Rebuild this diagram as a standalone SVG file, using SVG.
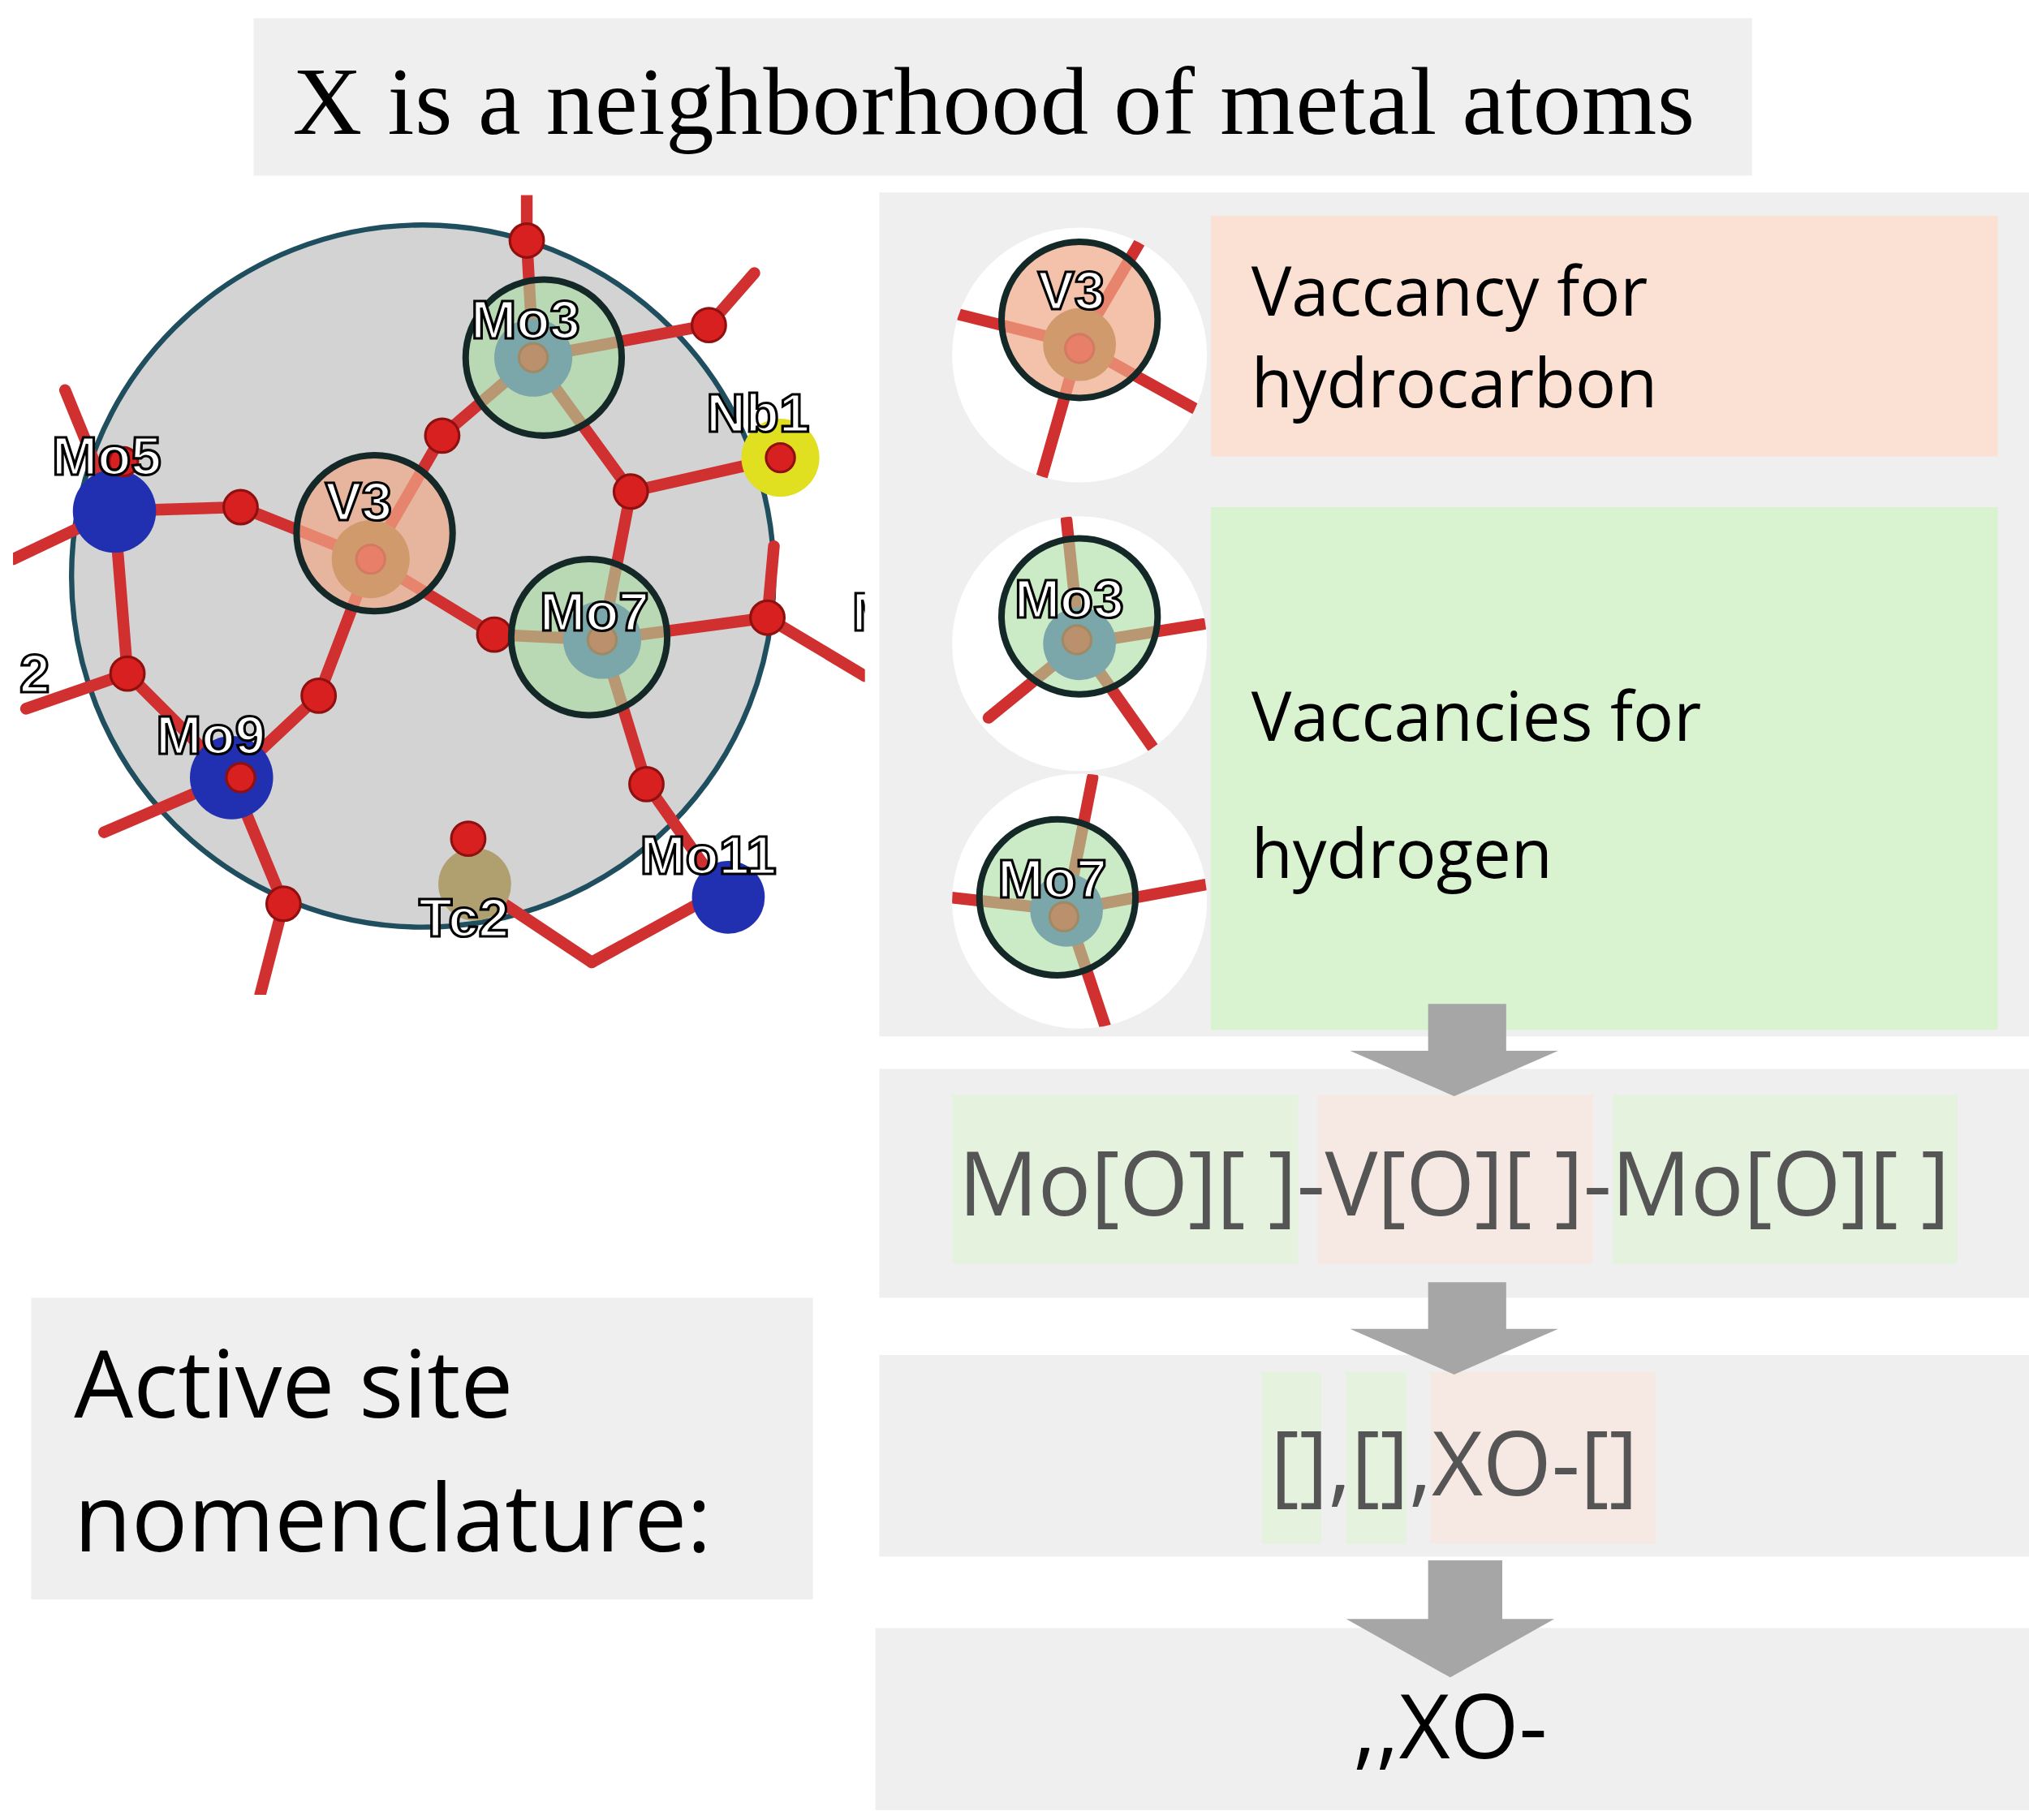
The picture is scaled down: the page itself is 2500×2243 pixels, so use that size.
<svg xmlns="http://www.w3.org/2000/svg" width="2500" height="2243" viewBox="0 0 2500 2243">
<defs>
<style>
.bx{fill:#efefef}
.sans{font-family:"Open Sans","Liberation Sans",sans-serif}
.big{font-size:52px;fill:#000}
.code{font-size:68px;fill:#555}
.lbl{font-family:"Liberation Sans",sans-serif;font-size:42px;font-weight:bold;fill:#fff;stroke:#000;stroke-width:2}
.rb{stroke:#d03030;stroke-width:9;stroke-linecap:round}
.ox{fill:#d82020;stroke:#901010;stroke-width:2}
.ring{stroke:#142828;stroke-width:5}
.gr{fill:#a8dca0;fill-opacity:.6}
.og{fill:#f0a888;fill-opacity:.7}
.arr{fill:#a6a6a6}
</style>
<clipPath id="mc"><path d="M10 150 H665 V765 H10 Z"/></clipPath>
<clipPath id="c1"><circle cx="830" cy="273" r="98"/></clipPath>
<clipPath id="c2"><circle cx="830" cy="495" r="98"/></clipPath>
<clipPath id="c3"><circle cx="830" cy="693" r="98"/></clipPath>
</defs>
<rect width="2500" height="2243" fill="#fff"/>
<g transform="scale(1.6026)">
<g id="title"><rect class="bx" x="195" y="14" width="1152" height="121"/>
<text x="764" y="103" text-anchor="middle" font-family="Liberation Serif,serif" font-size="74" textLength="1078">X is a neighborhood of metal atoms</text></g>

<g id="molecule" clip-path="url(#mc)">
<circle cx="325" cy="443" r="270" fill="#d3d3d3" stroke="#1f4e5f" stroke-width="4"/>
<g class="rb" fill="none">
<line x1="405" y1="150" x2="405" y2="185"/><line x1="405" y1="185" x2="410" y2="275"/>
<line x1="410" y1="275" x2="545" y2="250"/><line x1="545" y1="250" x2="580" y2="210"/>
<line x1="410" y1="275" x2="340" y2="335"/><line x1="340" y1="335" x2="285" y2="430"/>
<line x1="410" y1="275" x2="485" y2="378"/><line x1="485" y1="378" x2="600" y2="352"/>
<line x1="485" y1="378" x2="463" y2="492"/><line x1="88" y1="393" x2="185" y2="390"/>
<line x1="185" y1="390" x2="285" y2="430"/><line x1="285" y1="430" x2="380" y2="488"/>
<line x1="380" y1="488" x2="463" y2="492"/><line x1="463" y1="492" x2="590" y2="475"/>
<line x1="590" y1="475" x2="665" y2="520"/><line x1="285" y1="430" x2="245" y2="535"/>
<line x1="245" y1="535" x2="178" y2="598"/><line x1="88" y1="393" x2="98" y2="518"/>
<line x1="98" y1="518" x2="178" y2="598"/><line x1="98" y1="518" x2="20" y2="545"/>
<line x1="463" y1="492" x2="497" y2="603"/><line x1="497" y1="603" x2="555" y2="685"/>
<line x1="178" y1="598" x2="218" y2="695"/><line x1="218" y1="695" x2="200" y2="765"/>
<line x1="365" y1="680" x2="360" y2="645"/><line x1="365" y1="680" x2="455" y2="740"/>
<line x1="555" y1="685" x2="455" y2="740"/><line x1="88" y1="393" x2="10" y2="430"/>
<line x1="178" y1="598" x2="80" y2="640"/><line x1="50" y1="300" x2="88" y2="393"/>
<line x1="590" y1="475" x2="595" y2="420"/>
</g>
<circle cx="410" cy="275" r="30" fill="#3858b8"/><circle cx="463" cy="492" r="30" fill="#3858b8"/>
<circle cx="88" cy="393" r="32" fill="#2030b0"/><circle cx="178" cy="598" r="32" fill="#2030b0"/>
<circle cx="600" cy="352" r="30" fill="#e0e020"/><circle cx="365" cy="680" r="28" fill="#b0a070"/>
<circle cx="285" cy="430" r="30" fill="#8a7a30"/><circle cx="560" cy="690" r="28" fill="#2030b0"/>
<g class="ox">
<circle cx="405" cy="185" r="13"/><circle cx="545" cy="250" r="13"/><circle cx="340" cy="335" r="13"/>
<circle cx="185" cy="390" r="13"/><circle cx="485" cy="378" r="13"/><circle cx="380" cy="488" r="13"/>
<circle cx="590" cy="475" r="13"/><circle cx="98" cy="518" r="13"/><circle cx="245" cy="535" r="13"/>
<circle cx="497" cy="603" r="13"/><circle cx="218" cy="695" r="13"/><circle cx="360" cy="645" r="13"/>
<circle cx="410" cy="275" r="11"/><circle cx="463" cy="492" r="11"/><circle cx="95" cy="355" r="11"/>
<circle cx="185" cy="598" r="11"/><circle cx="600" cy="352" r="11"/><circle cx="285" cy="430" r="11"/>
</g>
<circle class="ring gr" cx="418" cy="275" r="60"/>
<circle class="ring og" cx="288" cy="410" r="60"/>
<circle class="ring gr" cx="453" cy="490" r="60"/>
<text class="lbl" x="362" y="260">Mo3</text><text class="lbl" x="250" y="400">V3</text>
<text class="lbl" x="415" y="485">Mo7</text><text class="lbl" x="40" y="365">Mo5</text>
<text class="lbl" x="120" y="580">Mo9</text><text class="lbl" x="543" y="332">Nb1</text>
<text class="lbl" x="322" y="720">Tc2</text><text class="lbl" x="492" y="672">Mo11</text>
<text class="lbl" x="15" y="532">2</text><text class="lbl" x="655" y="485">M</text>
</g>

<g id="panel"><rect class="bx" x="676" y="148" width="884" height="649"/></g>
<g id="hc"><rect x="931" y="166" width="605" height="185" fill="#fbe0d4"/>
<text class="sans big" x="962" y="243">Vaccancy for</text><text class="sans big" x="962" y="313">hydrocarbon</text></g>
<g id="hy"><rect x="931" y="390" width="605" height="402" fill="#d9f2d0"/>
<text class="sans big" x="962" y="570">Vaccancies for</text><text class="sans big" x="962" y="675">hydrogen</text></g>

<g id="v3"><circle cx="830" cy="273" r="98" fill="#fff"/>
<g clip-path="url(#c1)" class="rb"><line x1="830" y1="265" x2="730" y2="240"/><line x1="830" y1="265" x2="920" y2="315"/><line x1="830" y1="265" x2="800" y2="370"/><line x1="830" y1="265" x2="880" y2="180"/></g>
<circle cx="830" cy="265" r="28" fill="#8a7a30"/><circle class="ox" cx="830" cy="268" r="11"/>
<circle class="ring og" cx="830" cy="246" r="60"/><text class="lbl" x="798" y="238">V3</text></g>
<g id="mo3"><circle cx="830" cy="495" r="98" fill="#fff"/>
<g clip-path="url(#c2)" class="rb"><line x1="830" y1="495" x2="760" y2="552"/><line x1="830" y1="495" x2="925" y2="480"/><line x1="830" y1="495" x2="890" y2="580"/><line x1="830" y1="495" x2="820" y2="400"/></g>
<circle cx="830" cy="495" r="28" fill="#3858b8"/><circle class="ox" cx="828" cy="492" r="11"/>
<circle class="ring gr" cx="830" cy="474" r="60"/><text class="lbl" x="780" y="475">Mo3</text></g>
<g id="mo7"><circle cx="830" cy="693" r="98" fill="#fff"/>
<g clip-path="url(#c3)" class="rb"><line x1="820" y1="700" x2="840" y2="598"/><line x1="820" y1="700" x2="730" y2="690"/><line x1="820" y1="700" x2="928" y2="680"/><line x1="820" y1="700" x2="850" y2="790"/></g>
<circle cx="820" cy="700" r="28" fill="#3858b8"/><circle class="ox" cx="818" cy="705" r="11"/>
<circle class="ring gr" cx="813" cy="690" r="60"/><text class="lbl" x="767" y="690">Mo7</text></g>

<g id="code1"><rect class="bx" x="676" y="822" width="884" height="176"/>
<rect x="732" y="842" width="266" height="130" fill="#e4f2de"/><rect x="1013" y="842" width="212" height="130" fill="#f6e8e2"/><rect x="1240" y="842" width="265" height="130" fill="#e4f2de"/>
<text class="sans code" x="1118" y="935" text-anchor="middle" textLength="762">Mo[O][ ]-V[O][ ]-Mo[O][ ]</text></g>
<g id="code2"><rect class="bx" x="676" y="1042" width="884" height="155"/>
<rect x="970" y="1055" width="46" height="132" fill="#e4f2de"/><rect x="1035" y="1055" width="46" height="132" fill="#e4f2de"/><rect x="1100" y="1055" width="173" height="132" fill="#f6e8e2"/>
<text class="sans code" x="1118" y="1150" text-anchor="middle">[],[],XO-[]</text></g>
<g id="code3"><rect class="bx" x="673" y="1252" width="887" height="140"/>
<text class="sans" font-size="68" x="1115" y="1352" text-anchor="middle">,,XO-</text></g>
<g id="asn"><rect class="bx" x="24" y="998" width="601" height="232"/>
<text class="sans" font-size="72" x="57" y="1090">Active site</text><text class="sans" font-size="72" x="57" y="1193">nomenclature:</text></g>

<g id="connectors">
<path class="arr" d="M1098 772 H1158 V808 H1198 L1118 843 L1038 808 H1098 Z"/>
<path class="arr" d="M1098 986 H1158 V1022 H1198 L1118 1057 L1038 1022 H1098 Z"/>
<path class="arr" d="M1098 1200 H1155 V1245 H1195 L1115 1290 L1035 1245 H1098 Z"/>
</g>
</g>
</svg>
